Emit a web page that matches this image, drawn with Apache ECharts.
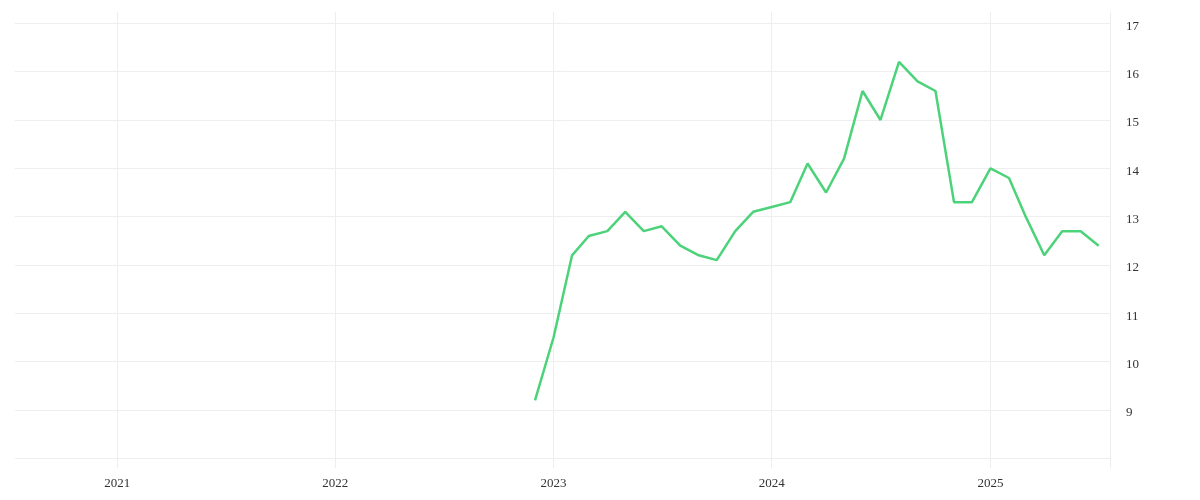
<!DOCTYPE html>
<html>
<head>
<meta charset="utf-8">
<title>Monthly series</title>
<script src="https://cdn.jsdelivr.net/npm/echarts@6.0.0/dist/echarts.min.js"></script>
<style>
  html, body { margin: 0; padding: 0; background: #fff; }
  #chart { width: 1200px; height: 500px; }
</style>
</head>
<body>
<div id="chart"></div>
<script>
// monthly points, first day of each month
var months = [
  '2022-12-01',
  '2023-01-01', '2023-02-01', '2023-03-01', '2023-04-01', '2023-05-01', '2023-06-01',
  '2023-07-01', '2023-08-01', '2023-09-01', '2023-10-01', '2023-11-01', '2023-12-01',
  '2024-01-01', '2024-02-01', '2024-03-01', '2024-04-01', '2024-05-01', '2024-06-01',
  '2024-07-01', '2024-08-01', '2024-09-01', '2024-10-01', '2024-11-01', '2024-12-01',
  '2025-01-01', '2025-02-01', '2025-03-01', '2025-04-01', '2025-05-01', '2025-06-01',
  '2025-07-01'
];
var values = [
  9.2,
  10.5, 12.2, 12.6, 12.7, 13.1, 12.7,
  12.8, 12.4, 12.2, 12.1, 12.7, 13.1,
  13.2, 13.3, 14.1, 13.5, 14.2, 15.6,
  15.0, 16.2, 15.8, 15.6, 13.3, 13.3,
  14.0, 13.8, 13.0, 12.2, 12.7, 12.7,
  12.4
];
var yearTicks = ['2021-01-01', '2022-01-01', '2023-01-01', '2024-01-01', '2025-01-01'];
var yGridTicks = [8, 9, 10, 11, 12, 13, 14, 15, 16, 17];
var yLabelTicks = [9, 10, 11, 12, 13, 14, 15, 16, 17];

var gridColor = '#eeeeee';
var textStyle = { fontFamily: 'Liberation Serif', fontSize: 13, color: '#333' };

function toTime(s) {
  return Date.parse(s + 'T00:00:00Z');
}

function buildSeriesData() {
  var data = [];
  months.forEach(function (m, i) {
    data.push([toTime(m), values[i]]);
  });
  return data;
}

function renderChart() {
  var chart = echarts.init(document.getElementById('chart'));
  var xTicks = yearTicks.map(toTime);
  var option = {
    animation: false,
    backgroundColor: '#fff',
    grid: { left: 15, right: 90, top: 12, bottom: 32, containLabel: false },
    xAxis: {
      type: 'value',
      min: toTime('2020-07-14'),
      max: toTime('2025-07-20'),
      axisLine: { show: false },
      axisTick: { show: false, customValues: xTicks },
      axisLabel: Object.assign({
        customValues: xTicks,
        margin: 9,
        formatter: function (v) { return String(new Date(v).getUTCFullYear()); }
      }, textStyle),
      splitLine: { show: true, lineStyle: { color: gridColor, width: 1 } }
    },
    yAxis: {
      type: 'value',
      position: 'right',
      min: 7.8,
      max: 17.234,
      axisLine: { show: true, lineStyle: { color: gridColor, width: 1 } },
      axisTick: { show: false, customValues: yGridTicks },
      axisLabel: Object.assign({
        customValues: yLabelTicks,
        margin: 16,
        verticalAlign: 'top',
        lineHeight: 6
      }, textStyle),
      splitLine: { show: true, lineStyle: { color: gridColor, width: 1 } }
    },
    series: [
      {
        type: 'line',
        data: buildSeriesData(),
        showSymbol: false,
        lineStyle: { color: '#4cd37a', width: 2.5 },
        itemStyle: { color: '#4cd37a' }
      }
    ]
  };
  chart.setOption(option);
}

window.onload = renderChart;
</script>
</body>
</html>
